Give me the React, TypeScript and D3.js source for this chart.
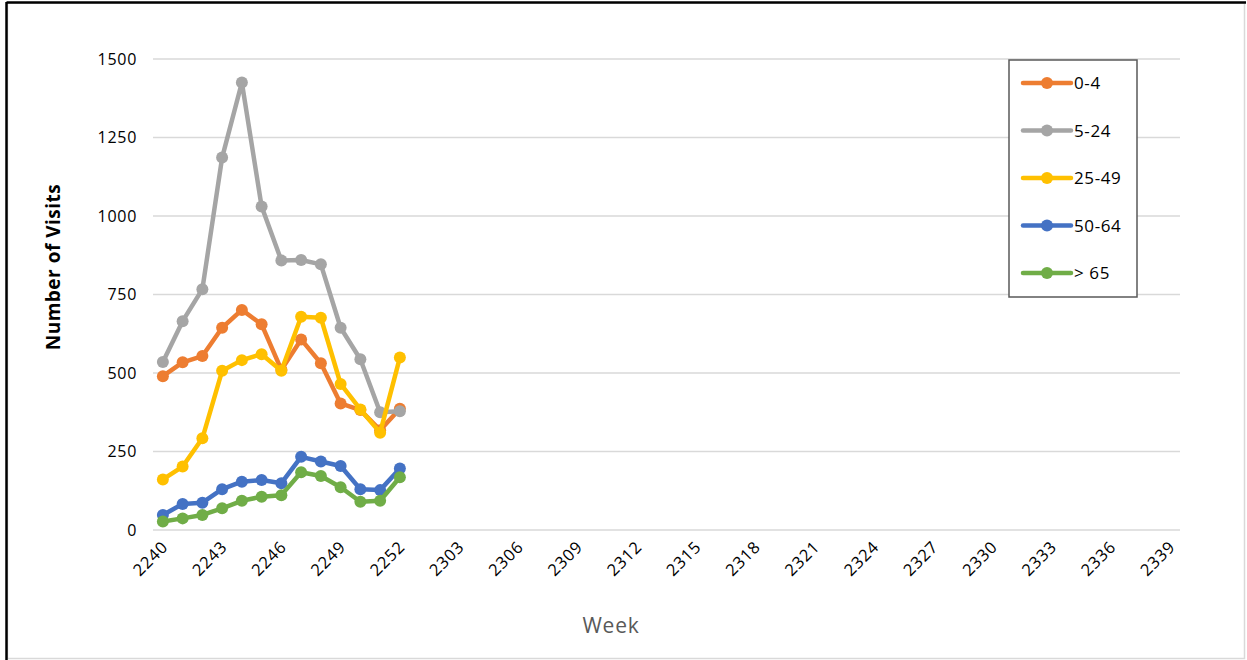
import React from "react";
import * as d3 from "d3";

const weeks: string[] = [
  ...d3.range(2240, 2253).map(String),
  ...d3.range(2301, 2340).map(String),
];
const seriesNames = ["0-4", "5-24", "25-49", "50-64", "> 65"];
const seriesColors = ["#ED7D31", "#A5A5A5", "#FFC000", "#4472C4", "#70AD47"];
const v0_4 = [490, 534, 554, 644, 701, 655, 510, 607, 531, 403, 382, 318, 386];
const v5_24 = [535, 665, 767, 1186, 1425, 1030, 858, 860, 846, 644, 544, 375, 378];
const v25_49 = [161, 202, 292, 507, 541, 560, 507, 679, 676, 465, 384, 310, 549];
const v50_64 = [48, 83, 87, 130, 154, 159, 149, 233, 218, 204, 130, 127, 196];
const v65 = [27, 37, 48, 69, 93, 106, 111, 184, 172, 136, 90, 93, 168];
const yTicks = [0, 250, 500, 750, 1000, 1250, 1500];

const allSeries = [v0_4, v5_24, v25_49, v50_64, v65];

export default function App() {
  const W = 1247, H = 660;
  const x = d3.scaleBand<string>().domain(weeks).range([153, 1180]);
  const cx = (w: string) => (x(w) as number) + x.bandwidth() / 2;
  const y = d3.scaleLinear().domain([0, 1500]).range([530, 59]);
  const line = d3
    .line<number>()
    .x((_, i) => cx(weeks[i]))
    .y((d) => y(d));
  const font = "'Open Sans', sans-serif";
  const labelWeeks = weeks.filter((_, i) => i % 3 === 0);
  const legendRows = seriesNames.map((n, i) => ({ n, c: seriesColors[i], yy: 83 + i * 47.5 }));

  return (
    <svg
      width={W}
      height={H}
      style={{ position: "absolute", left: 0, top: 0, background: "#fff" }}
    >
      <rect x={0} y={0} width={W} height={H} fill="#fff" />
      <rect x={7.5} y={3} width={1237} height={655.5} fill="none" stroke="#d9d9d9" strokeWidth={1.5} />
      <line x1={6.5} y1={2.5} x2={1246} y2={2.5} stroke="#000" strokeWidth={2.5} />
      <line x1={6.5} y1={2} x2={6.5} y2={660} stroke="#000" strokeWidth={2.5} />

      {yTicks.map((t) => (
        <g key={t}>
          <line x1={153} x2={1180} y1={y(t)} y2={y(t)} stroke="#d9d9d9" strokeWidth={1.3} />
          <text
            x={137}
            y={y(t) + 5.5}
            textAnchor="end"
            fontFamily={font}
            fontSize={16}
            letterSpacing={0.7}
            fill="#000"
          >
            {t}
          </text>
        </g>
      ))}

      {labelWeeks.map((w) => (
        <text
          key={w}
          transform={`translate(${cx(w) + 6},${548}) rotate(-45)`}
          textAnchor="end"
          fontFamily={font}
          fontSize={16.5}
          letterSpacing={0.8}
          fill="#000"
        >
          {w}
        </text>
      ))}

      <text
        transform={`translate(60,267) rotate(-90)`}
        textAnchor="middle"
        fontFamily={font}
        fontSize={19}
        fontWeight="bold"
        letterSpacing={0.5}
        fill="#000"
      >
        Number of Visits
      </text>
      <text x={611} y={633} textAnchor="middle" fontFamily={font} fontSize={21} letterSpacing={0.8} fill="#595959">
        Week
      </text>

      {allSeries.map((s, si) => (
        <g key={si}>
          <path d={line(s) as string} fill="none" stroke={seriesColors[si]} strokeWidth={4.5} strokeLinejoin="round" />
          {s.map((v, i) => (
            <circle key={i} cx={cx(weeks[i])} cy={y(v)} r={6} fill={seriesColors[si]} />
          ))}
        </g>
      ))}

      <rect x={1009} y={60} width={128} height={237} fill="#fff" stroke="#595959" strokeWidth={1.5} />
      {legendRows.map((r) => (
        <g key={r.n}>
          <line x1={1023} x2={1071} y1={r.yy} y2={r.yy} stroke={r.c} strokeWidth={4.5} strokeLinecap="round" />
          <circle cx={1047} cy={r.yy} r={6} fill={r.c} />
          <text x={1074} y={r.yy + 6} fontFamily={font} fontSize={17} letterSpacing={0.6} fill="#000">
            {r.n}
          </text>
        </g>
      ))}
    </svg>
  );
}
